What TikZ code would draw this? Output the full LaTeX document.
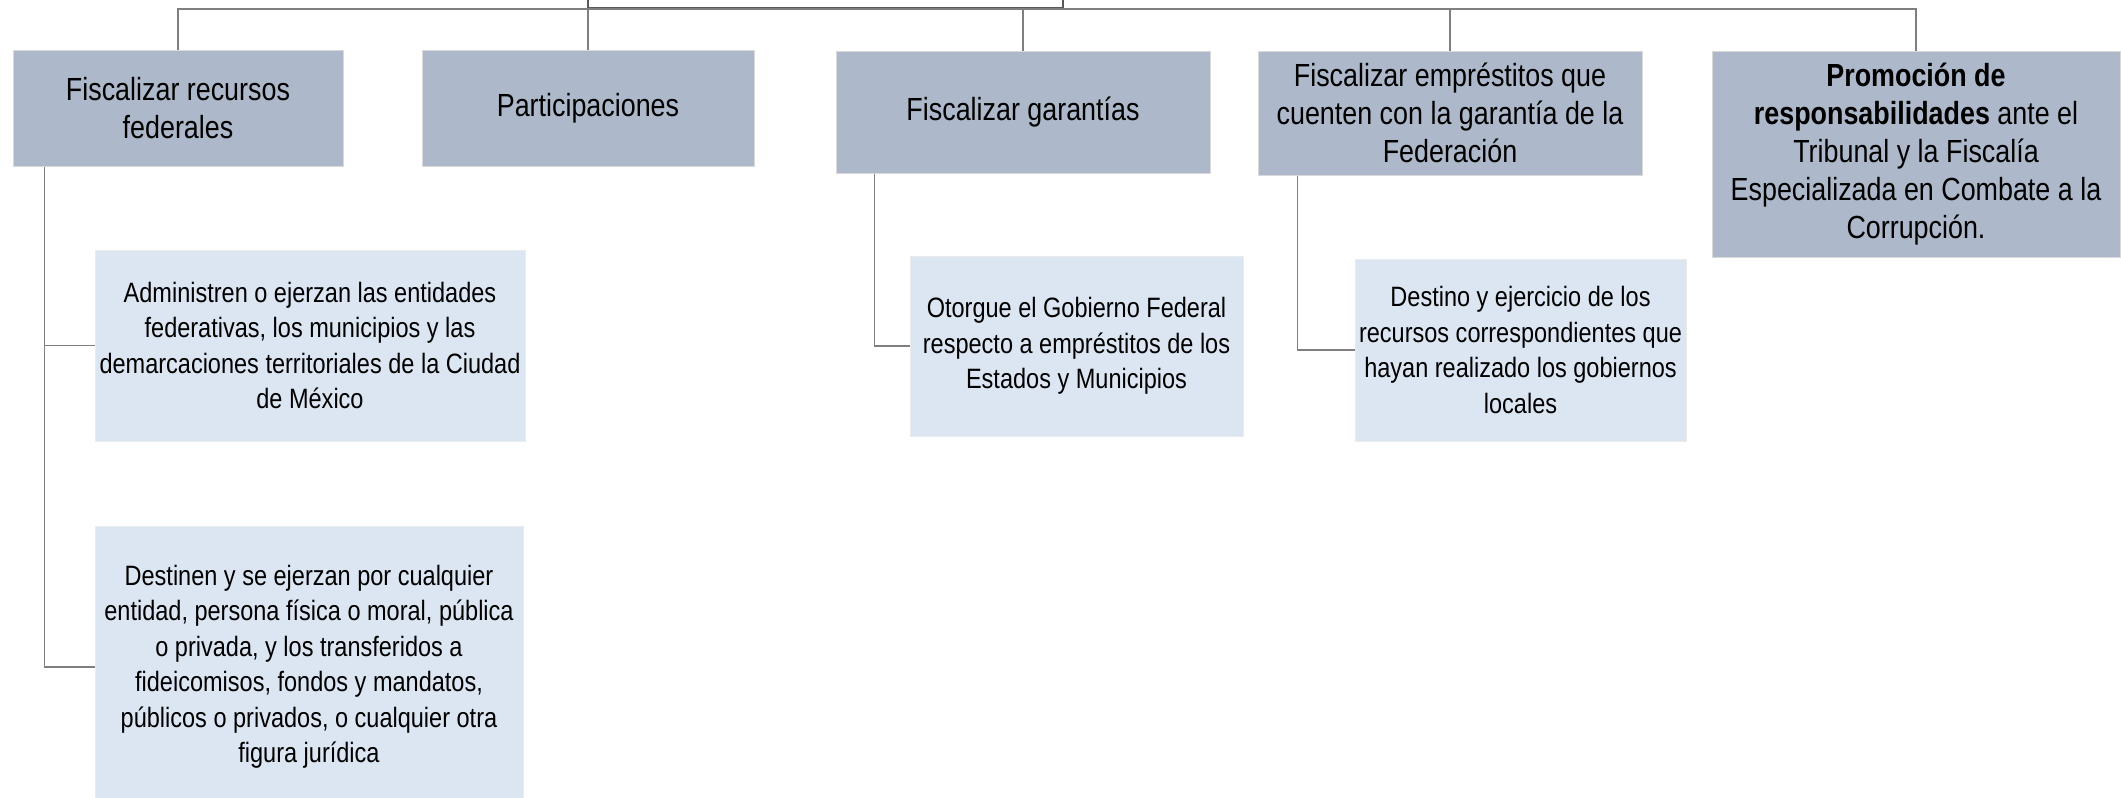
\documentclass[tikz,border=0pt]{standalone}
\usepackage{fontspec}
\setmainfont{Liberation Sans}[FakeStretch=0.84]
\definecolor{headfill}{HTML}{ADB9CA}
\definecolor{subfill}{HTML}{DCE6F2}
\definecolor{linkgray}{HTML}{7F7F7F}
\begin{document}
\begin{tikzpicture}[x=1pt, y=-1pt,
    head node/.style={rectangle, fill=headfill, draw=white!85!black, line width=1pt,
        inner sep=0pt, align=center, font=\fontsize{32}{38}\selectfont},
    sub node/.style={rectangle, fill=subfill, draw=white!92!black, line width=1pt,
        inner sep=0pt, align=center, font=\fontsize{28}{35.5}\selectfont},
    link/.style={draw=linkgray, line width=1.5pt}]

    \useasboundingbox (0,0) rectangle (2121,798);

    % root box, cut off by the page
    \node[draw=black!65, line width=2pt, fill=white, minimum width=475, minimum height=80]
        (root) at (825.5,-32) {};

    % first level
    \node[head node, minimum width=330, minimum height=116] (fed) at (178,108)
        {Fiscalizar recursos\\federales};
    \node[head node, minimum width=332, minimum height=116] (part) at (588,108)
        {Participaciones};
    \node[head node, minimum width=374, minimum height=122] (gar) at (1023,112)
        {Fiscalizar garantías};
    \node[head node, minimum width=384, minimum height=124] (emp) at (1450,113)
        {Fiscalizar empréstitos que\\cuenten con la garantía de la\\Federación};
    \node[head node, minimum width=408, minimum height=206] (prom) at (1916,154)
        {\textbf{Promoción de}\\\textbf{responsabilidades} ante el\\Tribunal y la Fiscalía\\Especializada en Combate a la\\Corrupción.};

    % second level
    \node[sub node, minimum width=430, minimum height=191] (adm) at (310,345.5)
        {Administren o ejerzan las entidades\\federativas, los municipios y las\\demarcaciones territoriales de la Ciudad\\de México};
    \node[sub node, minimum width=428, minimum height=282] (dest) at (309,667)
        {Destinen y se ejerzan por cualquier\\entidad, persona física o moral, pública\\o privada, y los transferidos a\\fideicomisos, fondos y mandatos,\\públicos o privados, o cualquier otra\\figura jurídica};
    \node[sub node, minimum width=333, minimum height=180] (otor) at (1076.5,346)
        {Otorgue el Gobierno Federal\\respecto a empréstitos de los\\Estados y Municipios};
    \node[sub node, minimum width=331, minimum height=182] (loc) at (1520.5,350)
        {Destino y ejercicio de los\\recursos correspondientes que\\hayan realizado los gobiernos\\locales};

    % connectors to the root
    \draw[link] (fed.north) |- (root.south);
    \draw[link] (prom.north) |- (root.south);
    \draw[link] (part.north) -- (part.north |- root.south);
    \draw[link] (gar.north) -- (gar.north |- root.south);
    \draw[link] (emp.north) -- (emp.north |- root.south);

    % connectors to the second level
    \draw[link] (fed.south west) ++(32,0) |- (adm.west);
    \draw[link] (fed.south west) ++(32,0) |- (dest.west);
    \draw[link] (gar.south west) ++(39,0) |- (otor.west);
    \draw[link] (emp.south west) ++(40,0) |- (loc.west);

\end{tikzpicture}
\end{document}
